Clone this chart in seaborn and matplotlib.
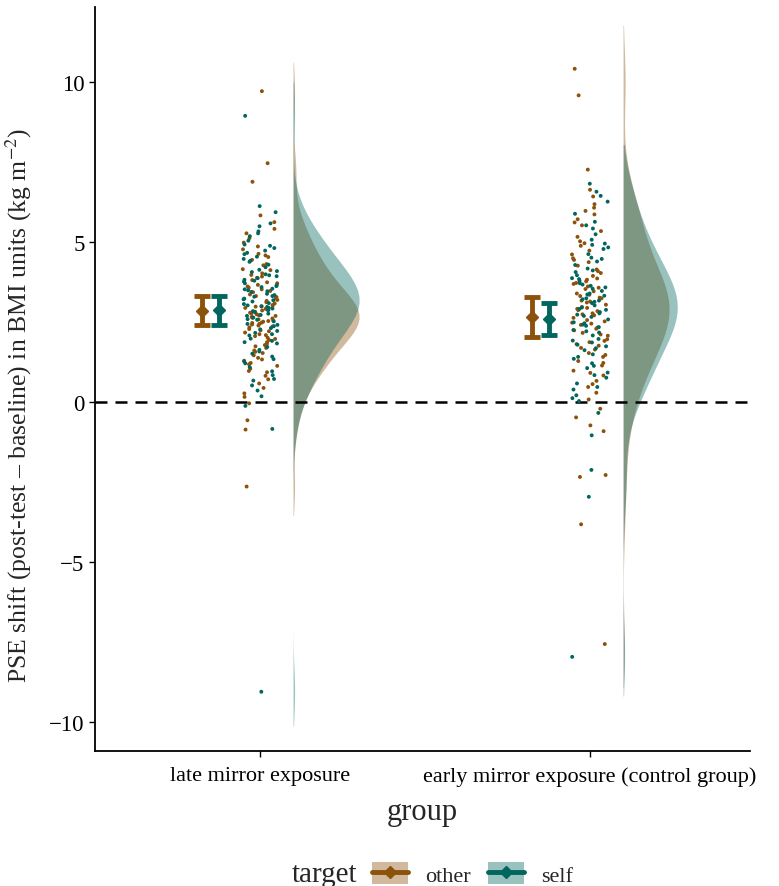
import numpy as np
import pandas as pd
import matplotlib
matplotlib.use("Agg")
import matplotlib.pyplot as plt
import matplotlib.transforms as mtransforms
from matplotlib.patches import Patch
from matplotlib.lines import Line2D
import seaborn as sns

# DATA
groups = ["late mirror exposure", "early mirror exposure (control group)"]
targets = ["other", "self"]

late_other = [9.71, 7.46, 6.88, 5.83, 5.62, 5.41, 5.27, 5.12, 4.98, 4.86, 4.77, 4.63,
              4.58, 4.44, 4.31, 4.27, 4.15, 4.02, 3.97, 3.88, 3.81, 3.74, 3.66, 3.61,
              3.52, 3.47, 3.43, 3.36, 3.31, 3.24, 3.19, 3.12, 3.08, 3.03, 2.98, 2.94,
              2.91, 2.86, 2.82, 2.79, 2.74, 2.71, 2.66, 2.63, 2.58, 2.55, 2.51, 2.47,
              2.42, 2.39, 2.33, 2.28, 2.24, 2.17, 2.12, 2.06, 2.01, 1.94, 1.87, 1.82,
              1.74, 1.69, 1.61, 1.53, 1.46, 1.38, 1.29, 1.22, 1.13, 1.04, 0.93, 0.82,
              0.71, 0.58, 0.44, 0.27, 0.16, -0.04, -0.57, -0.86, -2.64,
              3.92, 3.57, 3.28, 3.16, 2.99, 2.88, 2.77, 2.69, 2.61, 2.53, 2.44, 2.36,
              2.21, 2.09, 1.97, 1.78, 1.57, 1.33, 1.18, 0.97, 4.53, 4.12, 3.71, 3.02, 2.48]
late_self = [8.94, 6.12, 5.93, 5.58, 5.49, 5.33, 5.18, 5.04, 4.92, 4.81, 4.73, 4.66,
             4.54, 4.47, 4.38, 4.29, 4.21, 4.13, 4.06, 3.99, 3.93, 3.87, 3.82, 3.76,
             3.71, 3.65, 3.59, 3.54, 3.49, 3.44, 3.38, 3.34, 3.29, 3.23, 3.18, 3.14,
             3.09, 3.02, 2.97, 2.92, 2.87, 2.81, 2.76, 2.69, 2.64, 2.57, 2.52, 2.44,
             2.37, 2.31, 2.22, 2.16, 2.08, 1.98, 1.91, 1.83, 1.72, 1.63, 1.51, 1.42,
             1.34, 1.21, 1.09, 0.96, 0.84, 0.67, 0.52, 0.36, 0.18, -0.12, -0.84, -9.05,
             4.88, 4.41, 4.09, 3.96, 3.79, 3.62, 3.46, 3.31, 3.21, 3.06, 2.94, 2.84,
             2.72, 2.59, 2.41, 2.27, 2.12, 1.87, 1.58, 1.27, 0.72, 5.27, 4.62, 3.52, 2.99]
early_other = [10.41, 9.58, 7.26, 6.63, 6.42, 6.18, 5.97, 5.86, 5.71, 5.52, 5.34, 5.16,
               5.02, 4.88, 4.73, 4.61, 4.49, 4.37, 4.26, 4.14, 4.03, 3.94, 3.86, 3.77,
               3.69, 3.61, 3.53, 3.46, 3.39, 3.31, 3.24, 3.17, 3.11, 3.04, 2.97, 2.91,
               2.84, 2.77, 2.71, 2.63, 2.56, 2.48, 2.41, 2.33, 2.24, 2.16, 2.07, 1.96,
               1.87, 1.76, 1.64, 1.53, 1.41, 1.28, 1.14, 0.98, 0.83, 0.66, 0.47, 0.29,
               0.08, -0.21, -0.48, -0.73, -0.91, -2.28, -2.34, -3.82, -7.56,
               4.96, 4.44, 4.09, 3.82, 3.57, 3.35, 3.14, 2.94, 2.74, 2.52, 2.29, 2.11,
               1.91, 1.69, 1.47, 1.22, 0.91, 0.56, 3.72, 3.26, 2.87, 2.45, 1.81, 5.61, 6.07]
early_self = [6.82, 6.57, 6.44, 6.26, 5.88, 5.63, 5.42, 5.24, 5.07, 4.91, 4.78, 4.62,
              4.51, 4.39, 4.28, 4.17, 4.06, 3.96, 3.87, 3.79, 3.71, 3.63, 3.54, 3.47,
              3.39, 3.32, 3.24, 3.17, 3.09, 3.02, 2.95, 2.88, 2.81, 2.73, 2.66, 2.58,
              2.49, 2.42, 2.34, 2.25, 2.17, 2.08, 1.97, 1.86, 1.74, 1.62, 1.49, 1.35,
              1.21, 1.06, 0.92, 0.76, 0.58, 0.39, 0.21, 0.03, -0.34, -1.04, -2.12,
              -2.96, -7.96,
              5.52, 4.83, 4.47, 4.11, 3.84, 3.58, 3.36, 3.13, 2.91, 2.69, 2.46, 2.21,
              1.92, 1.68, 1.41, 1.13, 0.84, 0.47, 3.67, 3.21, 2.77, 2.38, 1.79, 4.95, 0.12]

# mean and confidence interval per group (order: late, early)
mean_other = [2.85, 2.65]
lo_other = [2.40, 2.03]
hi_other = [3.30, 3.28]
mean_self = [2.88, 2.60]
lo_self = [2.40, 2.10]
hi_self = [3.32, 3.10]

rows = []
for g, t, vals in [(groups[0], "other", late_other), (groups[0], "self", late_self),
                   (groups[1], "other", early_other), (groups[1], "self", early_self)]:
    for v in vals:
        rows.append((g, t, v))
df = pd.DataFrame(rows, columns=["group", "target", "shift"])

colors = {"other": "#8C510A", "self": "#01665E"}
light = {"other": "#D1B99D", "self": "#99C1BE"}

sns.set_theme(style="ticks")
plt.rcParams["font.family"] = ["Liberation Serif", "DejaVu Serif"]
plt.rcParams["mathtext.fontset"] = "stix"

fig, ax = plt.subplots(figsize=(7.79, 8.87), dpi=100)
fig.subplots_adjust(left=0.122, right=0.963, top=0.991, bottom=0.152)

# half violins: seaborn draws the left half, mirror it to the right of each group
for t in targets:
    n0 = len(ax.collections)
    sns.violinplot(data=df[df["target"] == t], x="group", y="shift", order=groups,
                   split=True, inner=None, cut=1.5, bw_adjust=0.9, width=0.2,
                   color=colors[t], saturation=1, linewidth=0, ax=ax)
    for c in ax.collections[n0:]:
        verts = np.concatenate([p.vertices for p in c.get_paths()])
        edge = verts[:, 0].max()
        i = int(np.floor(edge + 1e-9))
        flip = mtransforms.Affine2D().scale(-1, 1).translate(edge + i + 0.1, 0)
        c.set_alpha(0.4)
        c.set_transform(flip + ax.transData)

# raw points
np.random.seed(3)
sns.stripplot(data=df, x="group", y="shift", hue="target", order=groups,
              hue_order=targets, palette=colors, jitter=0.055, size=2.8,
              linewidth=0, legend=False, zorder=3, ax=ax)

# mean and CI
for i in range(len(groups)):
    for j, (t, m, lo, hi) in enumerate([("other", mean_other, lo_other, hi_other),
                                        ("self", mean_self, lo_self, hi_self)]):
        x = i - 0.15 + (j - 0.5) * 0.052
        ax.errorbar(x, m[i], yerr=[[m[i] - lo[i]], [hi[i] - m[i]]], fmt="D",
                    color=colors[t], ms=6.5, elinewidth=3.5, capsize=5.5,
                    capthick=3.5, zorder=4)

ax.axhline(0, color="black", ls=(0, (4.8, 3.2)), lw=1.8, zorder=2)

ax.set_xlim(-0.5, 1.485)
ax.set_ylim(-10.906, 12.34)
ax.set_yticks([-10, -5, 0, 5, 10])
ax.set_yticklabels(["\u221210", "\u22125", "0", "5", "10"])
sns.despine(ax=ax)
for s in ["left", "bottom"]:
    ax.spines[s].set_linewidth(1.3)
    ax.spines[s].set_color("black")
ax.tick_params(axis="both", colors="black", length=4, width=1, labelsize=16)
ax.tick_params(axis="y", labelsize=16.5)
ax.tick_params(axis="x", pad=7)
ax.set_xlabel("group", fontsize=22, labelpad=8)
ax.set_ylabel("PSE shift (post-test \u2013 baseline) in BMI units (kg m$^{-2}$)",
              fontsize=18.5)
ax.yaxis.set_label_coords(-0.093, 0.466)

# legend at the bottom
handles = [(Patch(facecolor=light[t], edgecolor="none"),
            Line2D([], [], color=colors[t], lw=3.5, marker="D", ms=6.5)) for t in targets]
fig.text(0.375, 0.0135, "target", fontsize=21, ha="left", va="center")
fig.legend(handles, targets, loc="center left", bbox_to_anchor=(0.4775, 0.0135),
           ncol=2, frameon=False, fontsize=16, handlelength=1.62, handleheight=1.1,
           handletextpad=0.77, columnspacing=0.77, borderpad=0, borderaxespad=0)

fig.savefig("out.png", dpi=100)
